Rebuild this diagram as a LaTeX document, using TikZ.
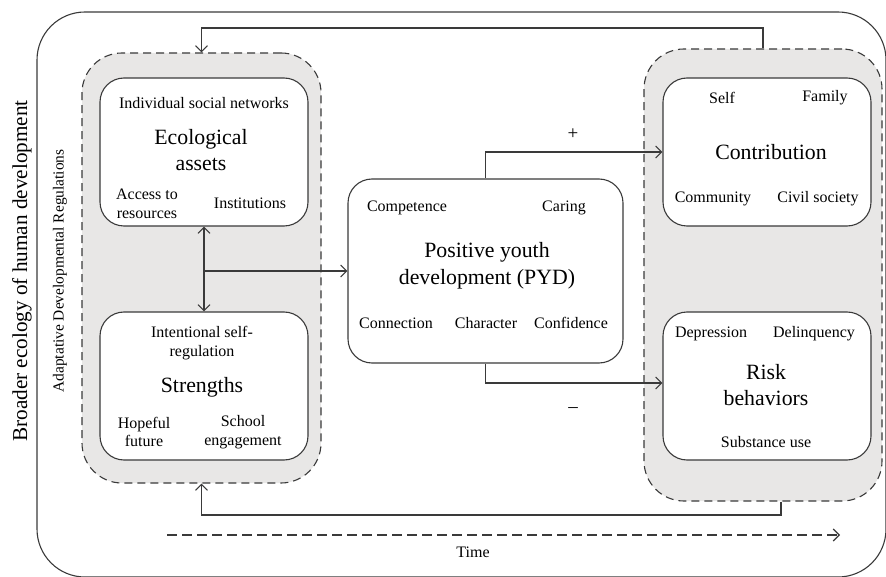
\documentclass[tikz,border=0pt]{standalone}
\usepackage{fontspec}
\setmainfont{Liberation Serif}
\usetikzlibrary{arrows.meta}
\definecolor{lc}{HTML}{3A3A3A}
\definecolor{regfill}{HTML}{E8E7E6}
\tikzset{
  box/.style={draw=lc, line width=1.1pt, fill=white, rounded corners=24pt, inner sep=0pt, minimum width=208pt, minimum height=148pt},
  reg/.style={draw=lc, line width=1.1pt, dashed, dash pattern=on 8pt off 5pt, fill=regfill, rounded corners=40pt, inner sep=0pt},
  small/.style={font=\fontsize{16}{18}\selectfont, text=black, align=center, inner sep=0pt},
  twol/.style={font=\fontsize{16}{18.5}\selectfont},
  big/.style={font=\fontsize{21.8}{26.5}\selectfont, text=black, align=center, inner sep=0pt},
  conn/.style={draw=lc, line width=1.1pt},
  tip/.style={-{Straight Barb[length=6pt,width=12pt,line width=1.1pt]}},
  dtip/.style={{Straight Barb[length=6pt,width=12pt,line width=1.1pt]}-{Straight Barb[length=6pt,width=12pt,line width=1.1pt]}}
}
\begin{document}
\begin{tikzpicture}[x=1pt,y=-1pt]
\useasboundingbox (0,0) rectangle (886,577);
% outer frame
\node[draw=lc, line width=1.1pt, rounded corners=48pt, minimum width=849pt, minimum height=565pt, inner sep=0pt] (outer) at (461.5,294.5) {};
% regulation regions
\node[reg, minimum width=239pt, minimum height=430pt] (leftreg) at (201.5,268) {};
\node[reg, minimum width=238pt, minimum height=452pt] (rightreg) at (763,275) {};
% boxes
\node[box] (eco) at (204,152) {};
\node[box] (str) at (204,386) {};
\node[box, minimum width=275pt, minimum height=184pt] (pyd) at (485.5,271) {};
\node[box] (contr) at (767,152) {};
\node[box] (risk) at (767,386) {};
% side labels
\node[font=\fontsize{21.2}{24}\selectfont, rotate=90, inner sep=0pt] (broad) at (22,271) {Broader ecology of human development};
\node[font=\fontsize{15.4}{17}\selectfont, rotate=90, inner sep=0pt] (adapt) at (60,271) {Adaptative Developmental Regulations};
% eco texts
\node[small] (e1) at (204,103) {Individual social networks};
\node[big] (e2) at (201,150) {Ecological\\assets};
\node[small, twol] (e3) at (147,204) {Access to\\resources};
\node[small] (e4) at (250,203) {Institutions};
% strengths texts
\node[small, twol] (s1) at (202,343) {Intentional self-\\regulation};
\node[big] (s2) at (202,387) {Strengths};
\node[small, twol] (s3) at (144,432) {Hopeful\\future};
\node[small, twol] (s4) at (243,432) {School\\engagement};
% pyd texts
\node[small] (p1) at (407,208) {Competence};
\node[small] (p2) at (564,208) {Caring};
\node[big] (p3) at (487,266) {Positive youth\\development (PYD)};
\node[small] (p4) at (396,323) {Connection};
\node[small] (p5) at (486,323) {Character};
\node[small] (p6) at (571,323) {Confidence};
% contribution texts
\node[small] (c1) at (722,98) {Self};
\node[small] (c2) at (825,98) {Family};
\node[big] (c3) at (771,152) {Contribution};
\node[small] (c4) at (713,199) {Community};
\node[small] (c5) at (818,199) {Civil society};
% risk texts
\node[small] (r1) at (711,334) {Depression};
\node[small] (r2) at (814,334) {Delinquency};
\node[big] (r3) at (766,385) {Risk\\behaviors};
\node[small] (r4) at (766,442) {Substance use};
% connectors
\draw[conn, dtip] (eco.south) -- (str.north);
\coordinate (junc) at (eco.south |- pyd.west);
\draw[conn, tip] (junc) -- (pyd.west);
\draw[conn, tip] (pyd.north) |- (contr.west);
\draw[conn, tip] (pyd.south) |- ([yshift=3pt]risk.west);
\coordinate (topc) at (480,28);
\coordinate (botc) at (480,515);
\draw[conn, tip] (rightreg.north) |- (topc) -| (leftreg.north);
\draw[conn, tip] ([xshift=18pt]rightreg.south) |- (botc) -| (leftreg.south);
\node[font=\fontsize{19}{20}\selectfont, inner sep=0pt] (plus) at (573,134) {+};
\node[font=\fontsize{19}{20}\selectfont, inner sep=0pt] (minus) at (573,410) {–};
% time
\coordinate (t1) at (167,535);
\coordinate (t2) at (840,535);
\draw[conn, dashed, dash pattern=on 10pt off 5pt, tip] (t1) -- (t2);
\node[small] (time) at (473,552) {Time};
\end{tikzpicture}
\end{document}
